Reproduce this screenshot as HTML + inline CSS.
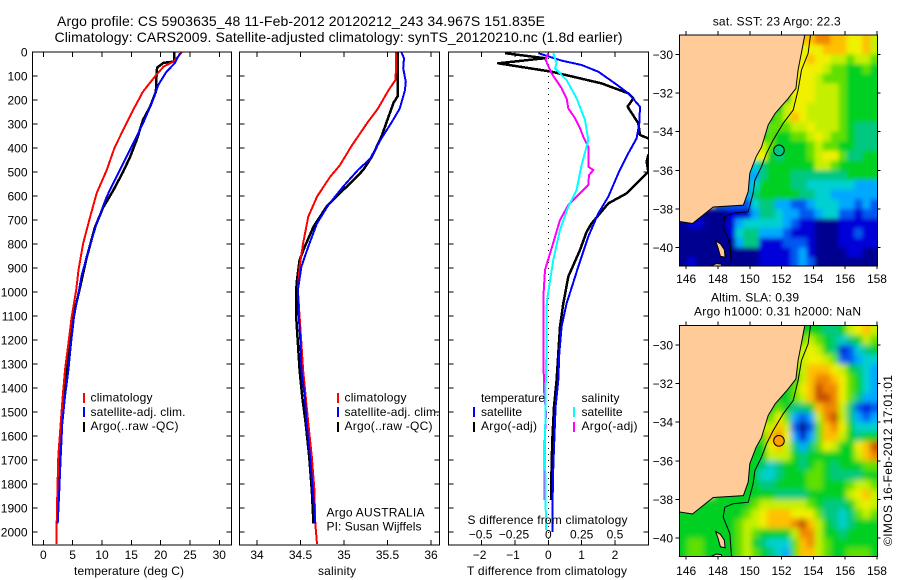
<!DOCTYPE html>
<html>
<head>
<meta charset="utf-8">
<style>
html,body{margin:0;padding:0;background:#fff;}
svg{display:block;}
text{font-family:"Liberation Sans",sans-serif;font-size:12px;fill:#000;}
</style>
</head>
<body>
<svg id="fig" width="900" height="580" viewBox="0 0 900 580" xmlns="http://www.w3.org/2000/svg">
<defs>
<filter id="soft-sst" filterUnits="userSpaceOnUse" x="640" y="0" width="260" height="300"><feGaussianBlur stdDeviation="2"/></filter>
<filter id="soft-sla" filterUnits="userSpaceOnUse" x="640" y="290" width="260" height="290"><feGaussianBlur stdDeviation="3"/></filter>
</defs>
</svg>
<script>
/* ---------- profile data: depth (m) and value arrays ---------- */
const tempClimDepth=[1,40,61,103,165,242,311,395,492,588,686,797,908,992,1103,1214,1325,1436,1547,1686,1825,1964,2050];
const tempClimVals=[23.6,22.2,20.5,19,17,15.3,13.9,12.2,10.8,9.1,8,6.8,6,5.6,4.84,4.27,3.7,3.3,2.96,2.56,2.4,2.28,2.28];
const tempSatDepth=[5,47,82,137,213,297,367,450,533,603,714,825,936,992,1103,1214,1325,1436,1547,1686,1825,1964];
const tempSatVals=[23.3,22.4,21,19.6,18.5,17,15.6,13.9,12.2,10.8,9.1,7.7,6.5,6.1,5.23,4.72,4.27,3.7,3.24,2.96,2.73,2.45];
const tempArgoDepth=[1,40,45,65,103,165,228,283,367,437,499,578,648,731,856,981,1103,1214,1325,1436,1547,1686,1825,1964];
const tempArgoVals=[22.3,22.3,20.5,19.4,19.3,19.2,18.2,17,15.9,14.8,13.6,11.9,10.2,8.8,7.4,6.26,5.1,4.55,3.98,3.53,3.13,2.73,2.5,2.39];

const salClimDepth=[1,61,118,160,236,299,390,473,520,603,686,797,894,992,1103,1214,1325,1436,1547,1686,1825,1964,2050];
const salClimVals=[35.6,35.6,35.59,35.51,35.39,35.26,35.09,34.95,34.84,34.69,34.59,34.53,34.49,34.47,34.49,34.51,34.53,34.56,34.59,34.63,34.66,34.67,34.69];
const salSatDepth=[1,26,68,124,160,236,292,360,445,492,561,638,714,811,894,992,1103,1214,1325,1436,1547,1686,1825,1964];
const salSatVals=[35.66,35.69,35.68,35.71,35.7,35.64,35.55,35.43,35.3,35.16,34.99,34.82,34.69,34.59,34.51,34.47,34.48,34.5,34.51,34.55,34.57,34.61,34.64,34.67];
const salArgoDepth=[1,183,211,292,353,437,492,533,589,644,728,811,867,950,992,1103,1214,1325,1436,1547,1686,1825,1964];
const salArgoVals=[35.62,35.62,35.57,35.49,35.43,35.32,35.22,35.11,34.95,34.8,34.65,34.55,34.49,34.46,34.45,34.45,34.47,34.49,34.52,34.56,34.6,34.63,34.65];

const dTSatDepth=[5,36,54,82,131,172,228,297,360,422,506,603,672,769,894,1026,1047,1144,1256,1367,1478,1617,1728,1867,2000];
const dTSatVals=[-0.3,0.4,1,1.5,2,2.4,2.75,2.73,2.65,2.4,2.1,1.8,1.5,1.2,0.9,0.6,0.55,0.4,0.33,0.3,0.22,0.18,0.15,0.13,0.12];
const dTArgoDepth=[5,26,47,82,131,172,193,228,297,346,360,395,429,457,499,540,589,631,714,749,825,936,1026,1047,1144,1256,1367,1478,1617,1728,1867];
const dTArgoVals=[-1.3,-0.1,-1.5,0.1,1.6,2.4,2.55,2.38,2.7,2.75,3,3.4,3,2.95,3,2.7,2.35,1.8,1.3,1.15,0.95,0.6,0.48,0.45,0.35,0.3,0.25,0.17,0.12,0.1,0.08];
const dSSatDepth=[5,47,68,117,193,283,367,471,575,644,741,866,1026,1061,1214,1408,1658,1992];
const dSSatVals=[0.0375,0.0625,0.05,0.1375,0.2125,0.275,0.3,0.25,0.2125,0.15,0.0875,0.0375,-0.0075,-0.0125,-0.0125,-0.02,-0.025,-0.0175];
const dSArgoDepth=[5,33,89,151,193,235,276,318,353,394,478,492,513,554,596,638,700,818,908,1026,1061,1214,1408,1505,1658,1867];
const dSArgoVals=[0,-0.02,0.025,0.1,0.1375,0.15,0.2,0.2375,0.2625,0.3,0.3,0.3375,0.305,0.3,0.225,0.15,0.0875,0.025,-0.025,-0.0375,-0.0375,-0.0375,-0.0325,-0.0175,-0.03,-0.03];

/* ---------- tick labels ---------- */
const depthTicks=[0,100,200,300,400,500,600,700,800,900,1000,1100,1200,1300,1400,1500,1600,1700,1800,1900,2000];
const tempTicks=[0,5,10,15,20,25,30];
const salTicks=[34,34.5,35,35.5,36];
const dTTicks=[-2,-1,0,1,2];
const dSTicks=[-0.5,-0.25,0,0.25,0.5];
const dSTickLabels=["\u22120.5","\u22120.25","0","0.25","0.5"];
const lonTicks=[146,148,150,152,154,156,158];
const latTicks=[-30,-32,-34,-36,-38,-40];

/* ---------- map data: right-aligned rows, north to south, 0.5 degree cells (hex colour class) ---------- */
const sstRows=[
"abbaa99a8",
"999aaa99a8",
"9a99887887",
"99998776676",
"99987776666",
"99988876666",
"6699988876666",
"56899888876666",
"678a9888876666",
"577788988876555",
"676677898776555",
"876666787766555",
"965666789975566",
"4566666688766666",
"33566655555556666",
"34666655444444333",
"35666665544333333",
"224553322344433232",
"001113554332234422122",
"0110001344444321100011111",
"0000001455333211100011211",
"0000000355111222100011111",
"0000000000111123100001100",
"0100000000111123200000000"
];
const slaRows=[
"6655689a8",
"7876545687",
"8986512456",
"8998722344",
"78aaa986543",
"68abba97643",
"679acbb97643",
"6678accb97533",
"676556abb85212",
"7973238bc85323",
"8a82027ab96444",
"7ab93137aa86566",
"69a8535798669ac",
"66888656666668ab",
"6545665676566677",
"6445666776555566",
"66556666776667887",
"6666655556666689a8",
"666667888888765556898",
"66666666789aaa99975545787",
"66666667889aaabca86545666",
"666666678766668bb86656666",
"677666678654447ab87666666",
"677666678765437aa87667776"
];
const palette=["#000090","#0000d8","#0058f0","#00a8ff","#00d0d0","#00c880","#00d020","#60e000","#c4f000","#f0f000","#ffc000","#f08800","#c85000"];

/* ---------- coastline, shelf isobath, argo float position (lon/lat) ---------- */
const coastLon=[153.46,153.25,153.04,152.9,152.4,151.6,151.16,150.74,150.4,150,149.9,149.6,147.7,146.4,145.58];
const coastLat=[-29,-29.9,-30.8,-31.76,-32.3,-33.05,-33.65,-34.8,-35.3,-36.15,-37.1,-37.8,-37.9,-38.75,-38.65];
const isoLon=[153.82,153.67,153.25,153.04,152.73,152.1,151.47,151.05,150.74,150.32,150.21,149.9,148.96,148.43,148.33,148.75,148.85];
const isoLat=[-29,-29.95,-30.81,-31.84,-32.88,-33.57,-34.43,-35.12,-35.81,-36.5,-37.19,-38.14,-38.22,-38.4,-38.91,-39.78,-40.95];
const islandLon=[147.85,148.15,148.4,148.45,148.15,148.0];
const islandLat=[-39.65,-39.8,-40.1,-40.5,-40.45,-40.0];
const tasLon=[147.55,147.9,148.2,148.25];
const tasLat=[-40.95,-40.82,-40.85,-40.95];
const argoLon=151.835;
const argoLat=-34.967;

/* ---------- helpers ---------- */
const NS='http://www.w3.org/2000/svg';
const fig=document.getElementById('fig');
function mk(tag,attrs,parent){
  const el=document.createElementNS(NS,tag);
  for(const k in attrs) el.setAttribute(k,attrs[k]);
  (parent||fig).appendChild(el);
  return el;
}
function label(str,x,y,name,opts,parent){
  const el=mk('text',Object.assign({x:x,y:y},opts||{}),parent);
  el.textContent=str;
  
  
  return el;
}
function pathOf(xs,ys,fx,fy){
  return xs.map((v,i)=>(i?'L':'M')+fx(v).toFixed(1)+' '+fy(ys[i]).toFixed(1)).join('');
}

/* ---------- profile panels ---------- */
const panelTop=52, panelBottom=545;
const depthY=d=>panelTop+d*0.24;
const tempX=v=>43.3+v*5.867;
const salX=v=>257+(v-34)*87;
const dTX=v=>548.3+v*33.33;
const dSX=v=>548.3+v*4*33.33;

function panel(name,x0,x1,depthLabels,xTicks,fx){
  const g=mk('g',{});
  
  
  const clip=mk('clipPath',{id:'clip-'+name},g);
  mk('rect',{x:x0,y:panelTop,width:x1-x0,height:panelBottom-panelTop},clip);
  const tg=mk('g',{stroke:'#000','stroke-width':1,'shape-rendering':'crispEdges'},g);
  
  
  depthTicks.forEach(d=>{
    const y=depthY(d);
    mk('line',{x1:x0,x2:x0+5,y1:y,y2:y},tg);
    mk('line',{x1:x1-5,x2:x1,y1:y,y2:y},tg);
    if(depthLabels) label(String(d),27.5,y+4.5,'depth-tick-label',{'text-anchor':'end'},g);
  });
  xTicks.forEach(v=>{
    const x=fx(v);
    mk('line',{x1:x,x2:x,y1:panelTop,y2:panelTop+5},tg);
    mk('line',{x1:x,x2:x,y1:panelBottom-5,y2:panelBottom},tg);
  });
  return g;
}
function series(g,name,panelName,xs,ys,fx,color,w){
  const p=mk('path',{d:pathOf(xs,ys,fx,depthY),fill:'none',stroke:color,'stroke-width':w,'clip-path':'url(#clip-'+panelName+')','shape-rendering':'crispEdges','stroke-linejoin':'round'},g);
  
  
}
function frame(g,name,x0,y0,x1,y1){
  const r=mk('rect',{x:x0,y:y0,width:x1-x0,height:y1-y0,fill:'none',stroke:'#000','stroke-width':1,'shape-rendering':'crispEdges'},g);
  
  
}
function swatch(g,name,x,y,color){
  const r=mk('rect',{x:x,y:y,width:2,height:10,fill:color},g);
  
  
}

/* titles */
label('Argo profile: CS 5903635_48 11-Feb-2012 20120212_243 34.967S 151.835E',57,26,'figure-title-line-1',{textLength:488,lengthAdjust:'spacing',style:'font-size:14px'});
label('Climatology: CARS2009. Satellite-adjusted climatology: synTS_20120210.nc (1.8d earlier)',54.5,42,'figure-title-line-2',{textLength:568,lengthAdjust:'spacing',style:'font-size:14px'});

/* temperature panel */
const pT=panel('temperature-panel',32.5,231.5,true,tempTicks,tempX);
series(pT,'temperature-argo-line','temperature-panel',tempArgoVals,tempArgoDepth,tempX,'#000',2.5);
series(pT,'temperature-climatology-line','temperature-panel',tempClimVals,tempClimDepth,tempX,'#f00',2);
series(pT,'temperature-satellite-line','temperature-panel',tempSatVals,tempSatDepth,tempX,'#00f',2);
frame(pT,'temperature-panel-frame',32.5,panelTop,231.5,panelBottom);
tempTicks.forEach(v=>{label(String(v),tempX(v),559,'temperature-tick-label',{'text-anchor':'middle'},pT);});
label('temperature (deg C)',74,575,'temperature-axis-title',{textLength:110,lengthAdjust:'spacing'},pT);
swatch(pT,'legend-swatch-climatology',83,393,'#f00');
swatch(pT,'legend-swatch-satellite',83,407,'#00f');
swatch(pT,'legend-swatch-argo',83,422,'#000');
label('climatology',90.5,401.5,'legend-label-climatology',{textLength:62,lengthAdjust:'spacing'},pT);
label('satellite-adj. clim.',90.5,416,'legend-label-satellite',{textLength:95,lengthAdjust:'spacing'},pT);
label('Argo(..raw -QC)',90.5,430,'legend-label-argo',{textLength:88,lengthAdjust:'spacing'},pT);

/* salinity panel */
const pS=panel('salinity-panel',239.5,439.5,false,salTicks,salX);
series(pS,'salinity-argo-line','salinity-panel',salArgoVals,salArgoDepth,salX,'#000',2.5);
series(pS,'salinity-climatology-line','salinity-panel',salClimVals,salClimDepth,salX,'#f00',2);
series(pS,'salinity-satellite-line','salinity-panel',salSatVals,salSatDepth,salX,'#00f',2);
frame(pS,'salinity-panel-frame',239.5,panelTop,439.5,panelBottom);
salTicks.forEach(v=>{label(String(v),salX(v),559,'salinity-tick-label',{'text-anchor':'middle'},pS);});
label('salinity',318,575,'salinity-axis-title',{textLength:38,lengthAdjust:'spacing'},pS);
swatch(pS,'salinity-legend-swatch-climatology',337,393,'#f00');
swatch(pS,'salinity-legend-swatch-satellite',337,407,'#00f');
swatch(pS,'salinity-legend-swatch-argo',337,422,'#000');
label('climatology',344.5,401.5,'salinity-legend-label-climatology',{textLength:62,lengthAdjust:'spacing'},pS);
label('satellite-adj. clim.',344.5,416,'salinity-legend-label-satellite',{textLength:95,lengthAdjust:'spacing'},pS);
label('Argo(..raw -QC)',344.5,430,'salinity-legend-label-argo',{textLength:88,lengthAdjust:'spacing'},pS);
label('Argo AUSTRALIA',326.5,516.5,'argo-australia-label',{textLength:98,lengthAdjust:'spacing'},pS);
label('PI: Susan Wijffels',326.5,530.5,'pi-label',{textLength:95,lengthAdjust:'spacing'},pS);

/* difference panel */
const pD=panel('difference-panel',448.5,648.5,false,dTTicks,dTX);
const zero=mk('line',{x1:dTX(0),x2:dTX(0),y1:panelTop,y2:panelBottom,stroke:'#000','stroke-width':1,'stroke-dasharray':'1 5','shape-rendering':'crispEdges'},pD);


series(pD,'t-diff-argo-line','difference-panel',dTArgoVals,dTArgoDepth,dTX,'#000',2.5);
series(pD,'t-diff-satellite-line','difference-panel',dTSatVals,dTSatDepth,dTX,'#00f',2);
series(pD,'s-diff-argo-line','difference-panel',dSArgoVals,dSArgoDepth,dSX,'#f0f',2);
series(pD,'s-diff-satellite-line','difference-panel',dSSatVals,dSSatDepth,dSX,'#0ff',2);
frame(pD,'difference-panel-frame',448.5,panelTop,648.5,panelBottom);
dTTicks.forEach(v=>{label(String(v).replace('-','\u2212'),dTX(v)-(v<0?2:0),559,'t-diff-tick-label',{'text-anchor':'middle'},pD);});
dSTicks.forEach((v,i)=>{label(dSTickLabels[i],dSX(v)-(v<0?1:0),538.5,'s-diff-tick-label',{'text-anchor':'middle'},pD);});
label('S difference from climatology',467.5,524,'s-diff-axis-title',{textLength:160,lengthAdjust:'spacing'},pD);
label('T difference from climatology',467,575,'t-diff-axis-title',{textLength:160,lengthAdjust:'spacing'},pD);
label('temperature',481,402,'legend-heading-temperature',{textLength:64,lengthAdjust:'spacing'},pD);
label('salinity',581.5,402,'legend-heading-salinity',{textLength:38,lengthAdjust:'spacing'},pD);
swatch(pD,'legend-swatch-t-satellite',473,407,'#00f');
swatch(pD,'legend-swatch-t-argo',473,422,'#000');
swatch(pD,'legend-swatch-s-satellite',573,407,'#0ff');
swatch(pD,'legend-swatch-s-argo',573,422,'#f0f');
label('satellite',481,416,'legend-label-t-satellite',{textLength:41,lengthAdjust:'spacing'},pD);
label('Argo(-adj)',481,430,'legend-label-t-argo',{textLength:56,lengthAdjust:'spacing'},pD);
label('satellite',581.5,416,'legend-label-s-satellite',{textLength:41,lengthAdjust:'spacing'},pD);
label('Argo(-adj)',581.5,430,'legend-label-s-argo',{textLength:56,lengthAdjust:'spacing'},pD);

/* ---------- maps ---------- */
const mapLeft=679.5, mapRight=877.5;
const lon0=145.58;
function drawMap(name,top,rows,circleFill,filterId){
  const bottom=top+231;
  const lonX=v=>mapLeft+(v-lon0)*15.9;
  const latY=v=>top+(-29-v)*19.33;
  const g=mk('g',{});
  
  
  const clip=mk('clipPath',{id:'clip-'+name},g);
  mk('rect',{x:mapLeft,y:top,width:mapRight-mapLeft,height:bottom-top},clip);
  const inner=mk('g',{'clip-path':'url(#clip-'+name+')'},g);
  const land=mk('rect',{x:mapLeft,y:top,width:mapRight-mapLeft,height:bottom-top,fill:'#ffcc99'},inner);
  
  
  const cells=mk('g',{filter:'url(#'+filterId+')'},inner);
  
  
  rows.forEach((raw,j)=>{
    const row=raw.padStart(25,'.');
    const first=row.search(/[^.]/);
    for(let i=0;i<row.length;i++){
      const val=parseInt(row[i],16);
      if(isNaN(val)) continue;
      const lonA=lon0+i*0.5, latA=-29-j*0.5;
      /* outer cells run past the frame and under the land so softening keeps full colour at edges */
      const padL=i===first?20:0, padR=i===row.length-1?14:0;
      const padT=j===0?14:0, padB=j===rows.length-1?14:0;
      const c=mk('rect',{x:lonX(lonA)-padL,y:latY(latA)-padT,width:8.4+padL+padR,height:10.1+padT+padB,fill:palette[val]},cells);
      
      
    }
  });
  const polyLon=[mapLeft,...coastLon.map(lonX),mapLeft];
  const polyLat=[top,...coastLat.map(latY),top];
  const lp=mk('path',{d:polyLon.map((x,i)=>(i?'L':'M')+x.toFixed(1)+' '+polyLat[i].toFixed(1)).join('')+'Z',fill:'#ffcc99',stroke:'#000','stroke-width':1},inner);
  
  
  const isl=mk('path',{d:pathOf(islandLon,islandLat,lonX,latY)+'Z',fill:'#ffcc99',stroke:'#000','stroke-width':1},inner);
  
  
  const tas=mk('path',{d:pathOf(tasLon,tasLat,lonX,latY)+'Z',fill:'#ffcc99',stroke:'#000','stroke-width':1},inner);
  
  
  const iso=mk('path',{d:pathOf(isoLon,isoLat,lonX,latY),fill:'none',stroke:'#000','stroke-width':1},inner);
  
  
  const ci=mk('circle',{cx:lonX(argoLon),cy:latY(argoLat),r:5.3,fill:circleFill,stroke:'#000','stroke-width':1},inner);
  
  
  frame(g,name+'-frame',mapLeft,top,mapRight,bottom);
  const tg=mk('g',{stroke:'#000','stroke-width':1,'shape-rendering':'crispEdges'},g);
  
  
  lonTicks.forEach(v=>{
    const x=lonX(v);
    mk('line',{x1:x,x2:x,y1:top-4,y2:top},tg);
    mk('line',{x1:x,x2:x,y1:bottom,y2:bottom+3},tg);
    label(String(v),x,bottom+(top<100?17:18.5),'longitude-tick-label',{'text-anchor':'middle'},g);
  });
  latTicks.forEach(v=>{
    const y=latY(v);
    mk('line',{x1:mapLeft-4,x2:mapLeft,y1:y,y2:y},tg);
    mk('line',{x1:mapRight,x2:mapRight+3,y1:y,y2:y},tg);
    label('\u2212'+Math.abs(v),673,y+4.5,'latitude-tick-label',{'text-anchor':'end'},g);
  });
  return g;
}
drawMap('sst-map',35,sstRows,'#00c880','soft-sst');
drawMap('sla-map',325.5,slaRows,'#ffa000','soft-sla');

label('sat. SST: 23 Argo: 22.3',712.7,25.7,'sst-map-title',{textLength:128,lengthAdjust:'spacing'});
label('Altim. SLA: 0.39',711,301.7,'sla-map-title-line-1',{textLength:88,lengthAdjust:'spacing'});
label('Argo h1000: 0.31 h2000: NaN',694,315.7,'sla-map-title-line-2',{textLength:167,lengthAdjust:'spacing'});
label('\u00a9IMOS 16-Feb-2012 17:01:01',0,0,'imos-credit',{transform:'translate(892,546) rotate(-90)',textLength:171,lengthAdjust:'spacing'});
</script>
</body>
</html>
